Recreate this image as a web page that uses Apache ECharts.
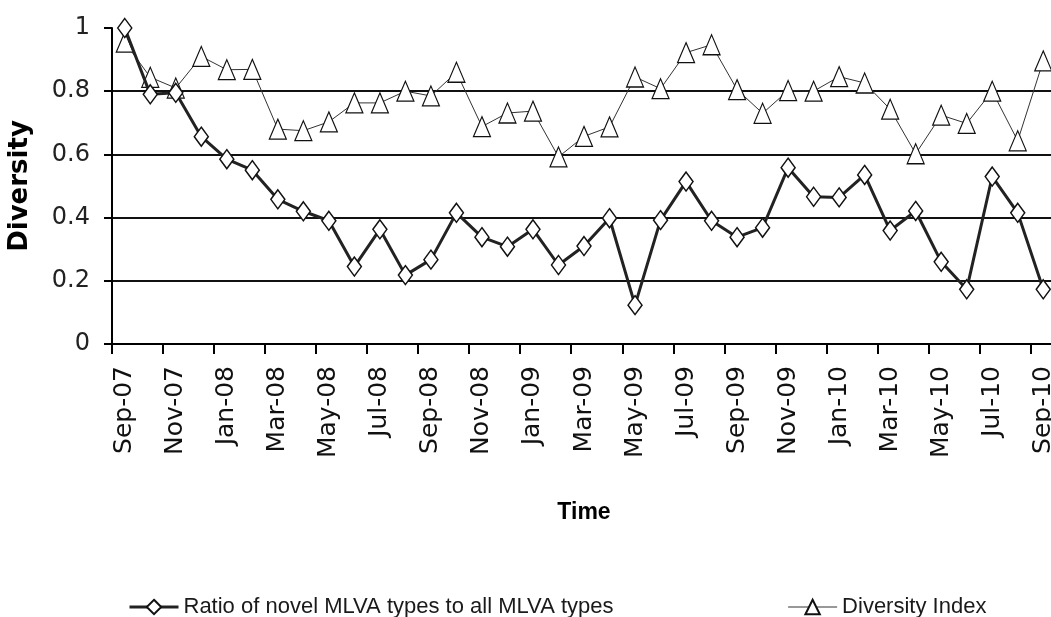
<!DOCTYPE html>
<html>
<head>
<meta charset="utf-8">
<script src="https://cdn.jsdelivr.net/npm/echarts@6/dist/echarts.min.js"></script>
<style>
html,body{margin:0;padding:0;background:#fff;}
#chart{width:1051px;height:617px;}
</style>
</head>
<body>
<div id="chart"></div>
<script>
var months = ['Sep-07','Oct-07','Nov-07','Dec-07','Jan-08','Feb-08','Mar-08','Apr-08','May-08','Jun-08','Jul-08','Aug-08',
  'Sep-08','Oct-08','Nov-08','Dec-08','Jan-09','Feb-09','Mar-09','Apr-09','May-09','Jun-09','Jul-09','Aug-09',
  'Sep-09','Oct-09','Nov-09','Dec-09','Jan-10','Feb-10','Mar-10','Apr-10','May-10','Jun-10','Jul-10','Aug-10','Sep-10'];

var ratioNovel = [1.0, 0.79, 0.795, 0.656, 0.585, 0.55, 0.458, 0.42, 0.39, 0.245, 0.363, 0.218,
  0.267, 0.415, 0.338, 0.308, 0.363, 0.25, 0.31, 0.398, 0.123, 0.392, 0.514, 0.39,
  0.338, 0.368, 0.558, 0.466, 0.464, 0.535, 0.359, 0.421, 0.26, 0.173, 0.53, 0.415, 0.173];

var diversityIndex = [0.955, 0.844, 0.81, 0.91, 0.868, 0.869, 0.68, 0.675, 0.703, 0.763, 0.763, 0.80,
  0.785, 0.86, 0.688, 0.731, 0.737, 0.592, 0.657, 0.687, 0.845, 0.808, 0.922, 0.947,
  0.805, 0.73, 0.802, 0.80, 0.846, 0.826, 0.743, 0.602, 0.724, 0.698, 0.80, 0.643, 0.896];

var seriesNames = ['Ratio of novel MLVA types to all MLVA types', 'Diversity Index'];

var chart = echarts.init(document.getElementById('chart'), null, {renderer: 'canvas'});
chart.setOption({
  animation: false,
  backgroundColor: '#fff',
  grid: {left: 112, right: -5, top: 28, bottom: 273, containLabel: false, outerBoundsMode: 'none'},
  legend: {
    left: 123, top: 591,
    itemWidth: 49, itemHeight: 18, itemGap: 174,
    textStyle: {fontFamily: 'Liberation Sans', fontSize: 22, color: '#1a1a1a'},
    data: [
      {name: seriesNames[0], lineStyle: {width: 3, color: '#222'}},
      {name: seriesNames[1], lineStyle: {width: 1.2, color: '#333'}}
    ]
  },
  xAxis: {
    type: 'category',
    data: months,
    boundaryGap: true,
    name: 'Time',
    nameLocation: 'middle',
    nameGap: 157,
    nameTextStyle: {fontFamily: 'Liberation Sans', fontWeight: 'bold', fontSize: 23, color: '#000'},
    axisLine: {lineStyle: {color: '#000', width: 2}},
    axisTick: {show: true, interval: 1, length: 10, alignWithLabel: false, lineStyle: {color: '#000', width: 2}},
    axisLabel: {interval: 1, rotate: 90, margin: 22, fontFamily: 'DejaVu Sans', fontSize: 25, color: '#111'},
    splitLine: {show: false}
  },
  yAxis: {
    type: 'value',
    min: 0, max: 1, interval: 0.2,
    name: 'Diversity',
    nameLocation: 'middle',
    nameGap: 79,
    nameTextStyle: {fontFamily: 'DejaVu Sans', fontWeight: 'bold', fontSize: 26, color: '#000'},
    axisLine: {show: true, lineStyle: {color: '#000', width: 2}},
    axisTick: {show: true, length: 8, lineStyle: {color: '#000', width: 2}},
    axisLabel: {margin: 22, fontFamily: 'DejaVu Sans', fontSize: 24, color: '#222',
      formatter: function (v) { return String(Math.round(v * 10) / 10); }},
    splitLine: {show: true, showMinLine: false, showMaxLine: false, lineStyle: {color: '#111', width: 2}}
  },
  series: [
    {
      name: seriesNames[0],
      type: 'line',
      data: ratioNovel,
      z: 4,
      symbol: 'diamond',
      symbolSize: [14, 19],
      showAllSymbol: true,
      lineStyle: {color: '#222', width: 3},
      itemStyle: {color: '#fff', borderColor: '#111', borderWidth: 1.5},
      emphasis: {disabled: true}
    },
    {
      name: seriesNames[1],
      type: 'line',
      data: diversityIndex,
      z: 3,
      symbol: 'triangle',
      symbolSize: [17, 20],
      showAllSymbol: true,
      lineStyle: {color: '#333', width: 1},
      itemStyle: {color: '#fff', borderColor: '#111', borderWidth: 1.2},
      emphasis: {disabled: true}
    }
  ]
});
</script>
</body>
</html>
